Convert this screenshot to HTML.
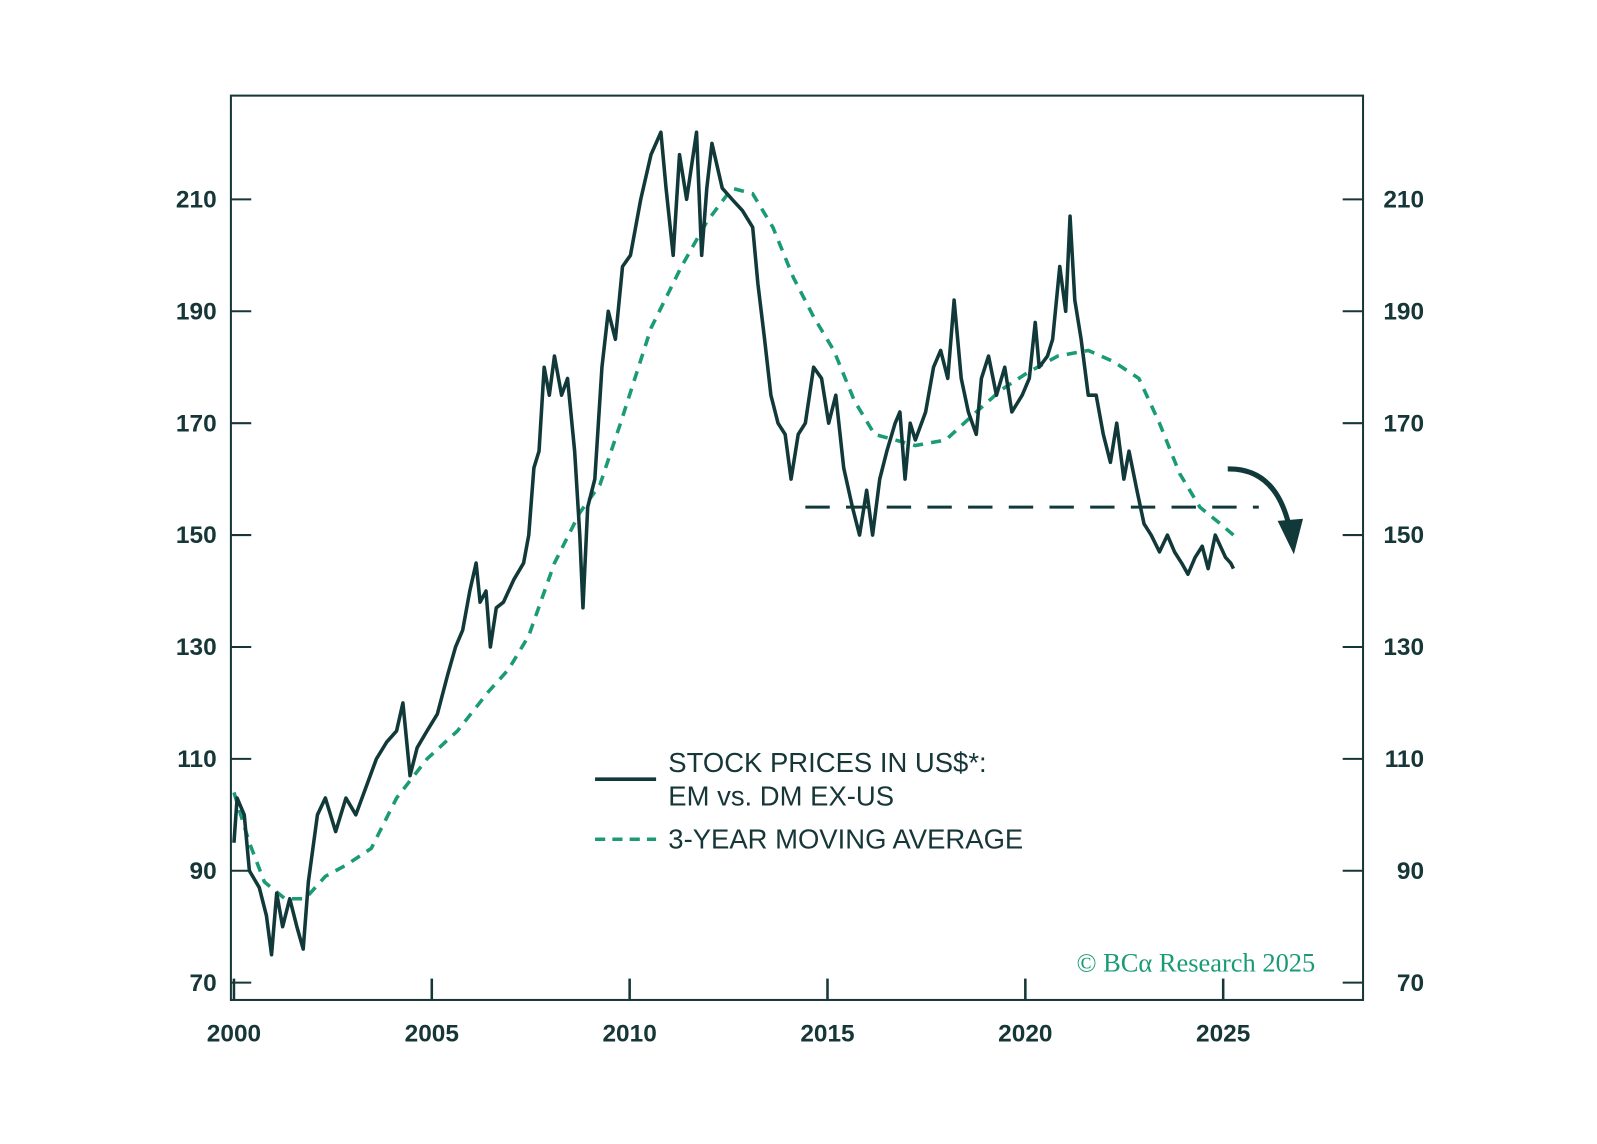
<!DOCTYPE html>
<html><head><meta charset="utf-8"><style>
html,body{margin:0;padding:0;background:#fff}
svg{display:block}
text{font-family:"Liberation Sans",sans-serif;fill:#163638}
</style></head><body>
<svg id="chart" width="1597" height="1144" viewBox="0 0 1570 1124.6" preserveAspectRatio="none" xmlns="http://www.w3.org/2000/svg">
<rect x="0" y="0" width="1570" height="1124.6" fill="#fff"/>
<rect x="227" y="94" width="1113" height="889" fill="none" stroke="#163638" stroke-width="2"/>
<g id="axes"></g>
<g id="series"></g>
<g>
<line x1="585" y1="766" x2="645" y2="766" stroke="#12393a" stroke-width="3.5"/>
<text x="657" y="759" font-size="27">STOCK PRICES IN US$*:</text>
<text x="657" y="792" font-size="27">EM vs. DM EX-US</text>
<line x1="585" y1="825" x2="645" y2="825" stroke="#1a9a75" stroke-width="3.5" stroke-dasharray="10,7"/>
<text x="657" y="834" font-size="27">3-YEAR MOVING AVERAGE</text>
</g>
<text x="1293" y="955" font-size="26" text-anchor="end" style="fill:#1a9a75;font-family:'Liberation Serif',serif">© BCα Research 2025</text>
<path d="M1207,461 Q1255,460 1268,520" fill="none" stroke="#12393a" stroke-width="5"/>
<polygon points="1256,512 1281,510 1272,545" fill="#12393a"/>
</svg>
<script>
const priceYears=[2000.00,2000.08,2000.26,2000.39,2000.64,2000.82,2000.95,2001.08,2001.23,2001.41,2001.59,2001.75,2001.88,2002.11,2002.31,2002.57,2002.83,2003.08,2003.34,2003.60,2003.86,2004.11,2004.27,2004.45,2004.63,2004.88,2005.14,2005.40,2005.60,2005.78,2005.96,2006.12,2006.22,2006.37,2006.48,2006.63,2006.81,2007.07,2007.32,2007.45,2007.58,2007.71,2007.84,2007.97,2008.10,2008.28,2008.43,2008.61,2008.74,2008.82,2008.94,2009.12,2009.30,2009.46,2009.64,2009.82,2010.02,2010.28,2010.54,2010.79,2010.92,2011.10,2011.26,2011.44,2011.69,2011.82,2011.95,2012.08,2012.34,2012.59,2012.85,2013.11,2013.24,2013.41,2013.57,2013.75,2013.93,2014.08,2014.26,2014.44,2014.65,2014.85,2015.03,2015.21,2015.41,2015.63,2015.81,2015.99,2016.14,2016.32,2016.50,2016.71,2016.83,2016.96,2017.09,2017.22,2017.48,2017.68,2017.86,2018.04,2018.20,2018.38,2018.56,2018.76,2018.89,2019.07,2019.27,2019.48,2019.66,2019.92,2020.10,2020.25,2020.35,2020.56,2020.69,2020.87,2021.02,2021.13,2021.25,2021.41,2021.59,2021.79,2021.97,2022.15,2022.31,2022.49,2022.62,2022.82,2023.00,2023.18,2023.39,2023.59,2023.77,2023.95,2024.11,2024.29,2024.47,2024.62,2024.80,2024.93,2025.06,2025.19,2025.26];
const priceValues=[95,103,100,90,87,82,75,86,80,85,80,76,88,100,103,97,103,100,105,110,113,115,120,107,112,115,118,125,130,133,140,145,138,140,130,137,138,142,145,150,162,165,180,175,182,175,178,165,150,137,155,160,180,190,185,198,200,210,218,222,212,200,218,210,222,200,212,220,212,210,208,205,195,185,175,170,168,160,168,170,180,178,170,175,162,155,150,158,150,160,165,170,172,160,170,167,172,180,183,178,192,178,172,168,178,182,175,180,172,175,178,188,180,182,185,198,190,207,192,185,175,175,168,163,170,160,165,158,152,150,147,150,147,145,143,146,148,144,150,148,146,145,144];
const maYears=[2000.00,2000.39,2000.77,2001.29,2001.80,2002.31,2002.83,2003.47,2004.11,2004.88,2005.65,2006.43,2006.94,2007.45,2008.10,2008.74,2009.25,2009.77,2010.54,2011.31,2011.95,2012.59,2013.11,2013.62,2014.14,2014.65,2015.16,2015.68,2016.19,2016.71,2017.22,2017.99,2018.76,2019.40,2020.05,2020.82,2021.59,2022.23,2022.87,2023.39,2023.90,2024.41,2024.93,2025.26];
const maValues=[104,95,88,85,85,89,91,94,103,110,115,122,126,132,145,154,159,170,187,198,206,212,211,205,196,189,183,174,168,167,166,167,172,176,179,182,183,181,178,170,161,155,152,150];
const yTicks=[70,90,110,130,150,170,190,210];
const xTicks=[2000,2005,2010,2015,2020,2025];
const supportLevel=155, supportStart=2014.44, supportEnd=2025.9;

const NS='http://www.w3.org/2000/svg';
function xs(y){return 230+(y-2000)*38.9;}
function ys(v){return 196+(210-v)*5.5;}
function mk(tag,attrs,parent){const e=document.createElementNS(NS,tag);for(const k in attrs)e.setAttribute(k,attrs[k]);parent.appendChild(e);return e;}
const axes=document.getElementById('axes'),series=document.getElementById('series');
yTicks.forEach(t=>{
  const y=ys(t);
  const l1=mk('line',{x1:227,x2:247,y1:y,y2:y,stroke:'#163638','stroke-width':2},axes);
  
  
  const l2=mk('line',{x1:1320,x2:1340,y1:y,y2:y,stroke:'#163638','stroke-width':2},axes);
  
  
  const a=mk('text',{x:213,y:y+8,'font-size':24,'font-weight':'bold','text-anchor':'end'},axes);a.textContent=t;
  
  
  const b=mk('text',{x:1400,y:y+8,'font-size':24,'font-weight':'bold','text-anchor':'end'},axes);b.textContent=t;
  
  
});
xTicks.forEach(t=>{
  const x=xs(t);
  const l=mk('line',{x1:x,x2:x,y1:962,y2:983,stroke:'#163638','stroke-width':2.5},axes);
  
  
  const a=mk('text',{x:x,y:1024,'font-size':24,'font-weight':'bold','text-anchor':'middle'},axes);a.textContent=t;
  
  
});
const sup=mk('line',{x1:xs(supportStart),x2:xs(supportEnd),y1:ys(supportLevel),y2:ys(supportLevel),stroke:'#12393a','stroke-width':3,'stroke-dasharray':'24,16'},series);


const ma=mk('polyline',{points:maYears.map((y,i)=>xs(y)+','+ys(maValues[i])).join(' '),fill:'none',stroke:'#1a9a75','stroke-width':3.5,'stroke-dasharray':'10,8'},series);


const pr=mk('polyline',{points:priceYears.map((y,i)=>xs(y)+','+ys(priceValues[i])).join(' '),fill:'none',stroke:'#12393a','stroke-width':3.5,'stroke-linejoin':'round'},series);


</script>
</body></html>
